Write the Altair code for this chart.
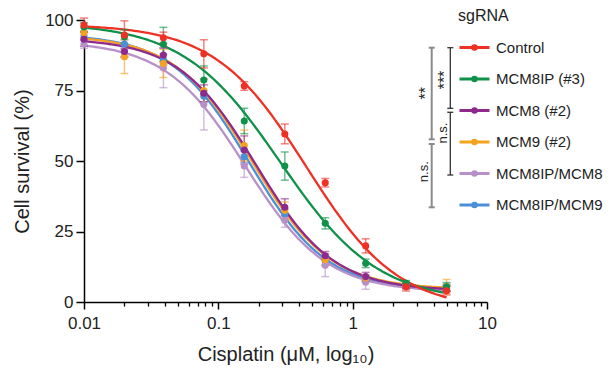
import altair as alt
import numpy as np
import pandas as pd

# ---------------- data ----------------
groups = ["Control", "MCM8IP (#3)", "MCM8 (#2)", "MCM9 (#2)", "MCM8IP/MCM8", "MCM8IP/MCM9"]
colors = ["#EE3124", "#109149", "#8E2A8E", "#F6A221", "#B890C8", "#4B8FD6"]
doses = [0.01, 0.02, 0.039, 0.078, 0.156, 0.3125, 0.625, 1.25, 2.5, 5.0]

control_mean = [98.2, 94.7, 93.7, 88.0, 76.6, 59.6, 42.3, 19.9, 5.4, 4.0]
control_sd = [2.5, 5.0, 2.0, 5.0, 1.5, 3.5, 1.5, 2.5, 1.5, 1.5]
mcm8ip_mean = [97.5, 94.1, 91.4, 78.7, 64.2, 48.2, 27.9, 13.7, 6.6, 5.4]
mcm8ip_sd = [1.5, 2.5, 6.0, 5.0, 4.5, 5.0, 2.0, 1.5, 1.0, 1.5]
mcm8_mean = [93.2, 88.8, 87.6, 74.0, 53.9, 33.6, 16.4, 9.0, 5.8, 4.8]
mcm8_sd = [2.5, 2.0, 2.5, 3.0, 5.0, 3.0, 1.5, 1.5, 1.0, 1.0]
mcm9_mean = [95.5, 87.0, 84.6, 75.0, 55.5, 32.5, 15.0, 8.5, 6.0, 5.5]
mcm9_sd = [2.0, 6.0, 5.0, 4.0, 5.5, 3.0, 2.0, 1.0, 1.0, 2.5]
ip_m8_mean = [91.5, 89.0, 83.0, 70.0, 48.2, 29.0, 13.0, 7.0, 5.5, 5.0]
ip_m8_sd = [1.5, 2.0, 7.0, 9.0, 4.0, 2.5, 4.0, 2.5, 1.0, 1.5]
ip_m9_mean = [94.3, 91.5, 86.0, 73.0, 51.5, 31.0, 14.5, 8.0, 6.0, 5.0]
ip_m9_sd = [1.5, 1.5, 2.0, 2.0, 2.0, 2.0, 1.5, 1.0, 1.0, 1.0]

# four-parameter logistic fits (estimated from the drawn curves)
fit_top = [98.5, 99.0, 93.5, 94.5, 92.5, 95.0]
fit_bottom = [-3.0, 0.0, 4.0, 4.5, 3.5, 4.0]
fit_ic50 = [0.455, 0.29, 0.19, 0.18, 0.16, 0.17]
fit_hill = [1.27, 1.2, 1.5, 1.5, 1.45, 1.5]

x_major = [0.01, 0.1, 1, 10]
x_minor = [m * d for d in [0.01, 0.1, 1] for m in range(2, 10)]
y_ticks = [0, 25, 50, 75, 100]

means = [control_mean, mcm8ip_mean, mcm8_mean, mcm9_mean, ip_m8_mean, ip_m9_mean]
sds = [control_sd, mcm8ip_sd, mcm8_sd, mcm9_sd, ip_m8_sd, ip_m9_sd]

rows = []
for gi in reversed(range(len(groups))):
    for d, m, s in zip(doses, means[gi], sds[gi]):
        rows.append({"group": groups[gi], "dose": d, "surv": m, "lo": m - s, "hi": m + s})
pts = pd.DataFrame(rows)

lx_grid = list(np.linspace(-2, np.log10(5), 160))
fit_df = pd.DataFrame({
    "group": groups, "top": fit_top, "bottom": fit_bottom,
    "ic50": fit_ic50, "hill": fit_hill,
}).iloc[::-1].reset_index(drop=True)
fit_df["lx"] = [lx_grid] * len(fit_df)

FONT = "Liberation Sans"
W, H = 403, 282

color_scale = alt.Scale(domain=groups, range=colors)
x_scale = alt.Scale(type="log", domain=[0.01, 10], nice=False)
y_scale = alt.Scale(domain=[0, 100], nice=False, zero=False)

y_axis = alt.Axis(values=y_ticks, tickSize=8, labelFontSize=17, labelPadding=3,
                  title="Cell survival (%)", titleFontSize=20, titleFontWeight="normal",
                  titleX=-62, titleY=141, titleAngle=270, titleAlign="center",
                  titleBaseline="middle", grid=False, domainColor="black",
                  domainWidth=1.5, tickColor="black", tickWidth=1.5,
                  labelColor="#222", titleColor="#222", labelFont=FONT, titleFont=FONT)
x_axis_major = alt.Axis(values=x_major, format="~g", tickSize=7, labelFontSize=17,
                        labelPadding=6, title="Cisplatin (μM, log₁₀)", titleFontSize=20,
                        titleFontWeight="normal", titleY=58, titleBaseline="alphabetic",
                        grid=False, domainColor="black", domainWidth=1.5,
                        tickColor="black", tickWidth=1.5, labelFlush=False,
                        orient="bottom", labelColor="#222", titleColor="#222",
                        labelFont=FONT, titleFont=FONT)
x_axis_minor = alt.Axis(values=x_minor, labels=False, tickSize=4, domain=False,
                        title=None, grid=False, orient="bottom", tickColor="black",
                        tickWidth=1.3)

legend_path = ("M-1,0L1,0M-0.12,0A0.12,0.12,0,1,1,0.12,0"
               "A0.12,0.12,0,1,1,-0.12,0Z")
leg = alt.Legend(title="sgRNA", orient="none", legendX=374, legendY=-12,
                 symbolType=legend_path, symbolSize=900, symbolStrokeWidth=3,
                 labelFontSize=15, titleFontSize=16, labelOffset=5,
                 rowPadding=6.5, titlePadding=7, padding=0,
                 titleFontWeight="normal", labelFont=FONT, titleFont=FONT,
                 labelColor="#222", titleColor="#222", labelLimit=250)

color_enc = alt.Color("group:N", scale=color_scale, legend=leg)
stroke_enc = alt.Stroke("group:N", scale=alt.Scale(domain=groups, range=colors), legend=None)
fill_enc = alt.Fill("group:N", scale=alt.Scale(domain=groups, range=colors), legend=None)

curves = alt.Chart(fit_df).transform_flatten(["lx"]).transform_calculate(
    dose="pow(10, datum.lx)",
    surv="datum.bottom + (datum.top - datum.bottom) / (1 + pow(pow(10, datum.lx) / datum.ic50, datum.hill))",
).mark_line(strokeWidth=2.3).encode(
    x=alt.X("dose:Q", scale=x_scale, axis=None),
    y=alt.Y("surv:Q", scale=y_scale, axis=y_axis),
    color=color_enc,
    detail="group:N",
)
err = alt.Chart(pts).mark_rule(strokeWidth=1.5, opacity=0.6).encode(
    x=alt.X("dose:Q", scale=x_scale, axis=x_axis_minor),
    y=alt.Y("lo:Q", scale=y_scale, axis=y_axis),
    y2="hi:Q",
    stroke=stroke_enc,
)
caps_lo = alt.Chart(pts).mark_tick(orient="horizontal", size=8, thickness=1.5, opacity=0.6).encode(
    x=alt.X("dose:Q", scale=x_scale, axis=None),
    y=alt.Y("lo:Q", scale=y_scale, axis=y_axis),
    fill=fill_enc,
)
caps_hi = alt.Chart(pts).mark_tick(orient="horizontal", size=8, thickness=1.5, opacity=0.6).encode(
    x=alt.X("dose:Q", scale=x_scale, axis=None),
    y=alt.Y("hi:Q", scale=y_scale, axis=y_axis),
    fill=fill_enc,
)
points = alt.Chart(pts).mark_circle(size=50, opacity=1).encode(
    x=alt.X("dose:Q", scale=x_scale, axis=x_axis_major),
    y=alt.Y("surv:Q", scale=y_scale, axis=y_axis),
    color=color_enc,
)

# ---- significance brackets (annotation, pixel placement) ----
def bracket(xp, y1, y2, col, sw):
    seg = alt.Chart(pd.DataFrame({"a": [0]})).mark_rule(color=col, strokeWidth=sw).encode(
        x=alt.value(xp), y=alt.value(y1), y2=alt.value(y2))
    c1 = alt.Chart(pd.DataFrame({"a": [0]})).mark_rule(color=col, strokeWidth=sw).encode(
        x=alt.value(xp - 3), x2=alt.value(xp + 3), y=alt.value(y1))
    c2 = alt.Chart(pd.DataFrame({"a": [0]})).mark_rule(color=col, strokeWidth=sw).encode(
        x=alt.value(xp - 3), x2=alt.value(xp + 3), y=alt.value(y2))
    return [seg, c1, c2]

def label(txt, xp, yp, size):
    return alt.Chart(pd.DataFrame({"t": [txt]})).mark_text(
        angle=270, fontSize=size, font=FONT, color="#222", align="center", baseline="middle"
    ).encode(text="t:N", x=alt.value(xp), y=alt.value(yp))

ann = []
ann += bracket(347.7, 27.7, 119.3, "#8a8a8a", 2)
ann += bracket(347.7, 124.0, 187.3, "#8a8a8a", 2)
ann += bracket(366.3, 27.7, 88.3, "#333333", 1.3)
ann += bracket(366.3, 92.3, 155.0, "#333333", 1.3)
ann += [label("**", 342.0, 73.3, 16), label("n.s.", 339.5, 151.7, 13),
        label("***", 361.0, 60.0, 16), label("n.s.", 358.7, 113.0, 13)]

chart = alt.layer(curves, err, caps_lo, caps_hi, points, *ann).resolve_axis(
    x="independent"
).properties(
    width=W, height=H,
    autosize=alt.AutoSizeParams(type="none"),
    padding={"left": 76, "top": 12, "right": 120, "bottom": 63},
).configure_view(stroke=None)

chart.save("out.html", embed_options={"renderer": "svg", "actions": False})
